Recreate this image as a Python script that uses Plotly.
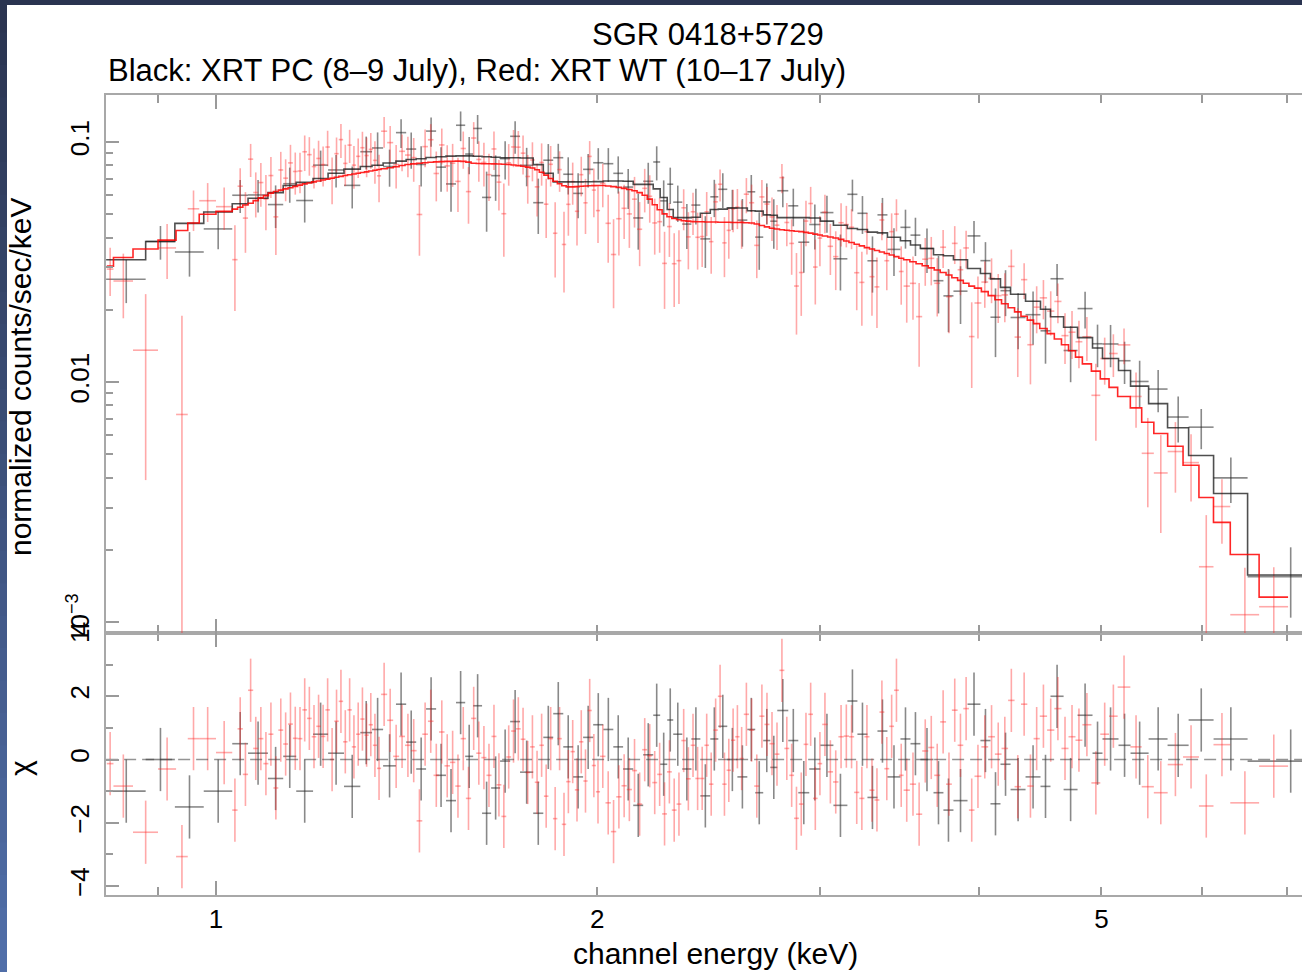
import math
import plotly.graph_objects as go

# ---------------- data ----------------
# Black: XRT PC (8-9 July) -- bin edges in keV
pc_edges = [0.819, 0.880, 0.928, 0.978, 1.030, 1.060, 1.099, 1.130, 1.157, 1.193,
            1.226, 1.262, 1.300, 1.328, 1.355, 1.387, 1.413, 1.439, 1.465, 1.492,
            1.519, 1.547, 1.573, 1.596, 1.622, 1.649, 1.676, 1.707, 1.738, 1.780,
            1.813, 1.846, 1.880, 1.914, 1.949, 1.985, 2.022, 2.059, 2.096, 2.135,
            2.174, 2.214, 2.242, 2.271, 2.296, 2.334, 2.373, 2.412, 2.456, 2.492,
            2.533, 2.580, 2.627, 2.665, 2.704, 2.739, 2.774, 2.830, 2.882, 2.940,
            3.000, 3.072, 3.151, 3.209, 3.268, 3.328, 3.389, 3.470, 3.534, 3.598,
            3.685, 3.752, 3.821, 3.920, 4.013, 4.087, 4.162, 4.239, 4.356, 4.476,
            4.558, 4.668, 4.788, 4.920, 5.010, 5.158, 5.272, 5.448, 5.639, 5.859,
            6.131, 6.522, 7.585]
# model (normalized counts/sec/keV) per bin
pc_model = [0.0323, 0.0385, 0.0458, 0.0511, 0.0553, 0.0583, 0.0615, 0.0659, 0.0679, 0.0705,
            0.0741, 0.0771, 0.0790, 0.0800, 0.0818, 0.0832, 0.0846, 0.0852, 0.0862, 0.0868,
            0.0873, 0.0875, 0.0875, 0.0872, 0.0868, 0.0864, 0.0860, 0.0860, 0.0858, 0.0805,
            0.0741, 0.0682, 0.0682, 0.0682, 0.0683, 0.0684, 0.0688, 0.0688, 0.0686, 0.0666,
            0.0666, 0.0638, 0.0587, 0.0523, 0.0484, 0.0484, 0.0486, 0.0505, 0.0523, 0.0525,
            0.0531, 0.0531, 0.0517, 0.0515, 0.0497, 0.0495, 0.0484, 0.0484, 0.0484, 0.0482,
            0.0468, 0.0450, 0.0436, 0.0432, 0.0421, 0.0418, 0.0401, 0.0388, 0.0372, 0.0360,
            0.0339, 0.0336, 0.0323, 0.0297, 0.0283, 0.0269, 0.0248, 0.0232, 0.0217, 0.0201,
            0.0187, 0.0169, 0.0153, 0.01385, 0.01253, 0.01116, 0.00961, 0.00813, 0.00645, 0.00494,
            0.00343, 0.00157]
# fractional 1-sigma errors per bin
pc_relerr = [0.17, 0.16, 0.16, 0.15, 0.17, 0.16, 0.18, 0.17, 0.16, 0.17,
             0.16, 0.17, 0.18, 0.19, 0.17, 0.18, 0.19, 0.18, 0.18, 0.19,
             0.18, 0.19, 0.18, 0.18, 0.19, 0.18, 0.18, 0.19, 0.17, 0.18,
             0.19, 0.18, 0.19, 0.19, 0.18, 0.18, 0.19, 0.19, 0.18, 0.19,
             0.20, 0.21, 0.21, 0.22, 0.20, 0.20, 0.19, 0.19, 0.20, 0.20,
             0.19, 0.20, 0.21, 0.21, 0.22, 0.22, 0.19, 0.20, 0.20, 0.20,
             0.19, 0.19, 0.21, 0.21, 0.20, 0.21, 0.20, 0.21, 0.20, 0.21,
             0.21, 0.20, 0.20, 0.21, 0.22, 0.22, 0.21, 0.21, 0.22, 0.22,
             0.22, 0.21, 0.23, 0.21, 0.23, 0.22, 0.23, 0.23, 0.24, 0.25,
             0.25, 0.32]
# residuals (chi) per bin
pc_chi = [-1.0, 0.0, -1.5, -1.0, 0.5, 0.2, -0.6, 0.1, -1.0, 0.8,
          0.2, -0.85, 0.85, 0.95, -0.2, 1.75, 0.55, -0.3, 1.6, -0.5,
          -1.3, 1.8, 0.1, 1.7, -1.7, -0.9, -0.05, 1.2, -0.4, -1.7,
          0.7, 1.45, 0.4, -0.55, 0.7, 1.1, 0.95, 0.4, -0.3, -1.45,
          0.15, 1.4, -0.15, 1.25, 0.8, -0.3, 0.65, -1.15, 0.65, 1.05,
          0.0, -0.55, 0.95, -1.05, 0.6, -0.25, 1.55, 0.6, -1.05, -0.3,
          0.45, -1.45, 1.85, 0.8, -1.2, 0.9, -0.55, 0.65, 0.5, 0.0,
          -1.05, -1.6, -1.3, 1.75, 0.6, -1.4, -0.15, -0.95, -0.55, -0.85,
          2.0, -0.95, 1.4, 0.2, 0.65, 0.45, 0.2, 0.65, 0.45, 1.25,
          0.65, -0.05]

# Red: XRT WT (10-17 July)
wt_edges = [0.82, 0.83, 0.86, 0.90, 0.93, 0.95, 0.97, 1.00, 1.03,
            1.04, 1.05, 1.06, 1.07, 1.08, 1.09, 1.10, 1.11, 1.12, 1.13,
            1.14, 1.15, 1.16, 1.17, 1.18, 1.19, 1.20, 1.21, 1.22, 1.23,
            1.24, 1.25, 1.26, 1.27, 1.28, 1.29, 1.30, 1.31, 1.32, 1.33,
            1.34, 1.35,
            1.365, 1.38, 1.395, 1.41, 1.425, 1.44, 1.455, 1.47, 1.485, 1.50,
            1.515, 1.53, 1.545, 1.56, 1.575, 1.59, 1.605, 1.62, 1.635, 1.65,
            1.665, 1.68, 1.695, 1.71, 1.725, 1.74, 1.755, 1.77, 1.785, 1.80,
            1.815, 1.83, 1.845, 1.86, 1.875, 1.89, 1.905, 1.92, 1.935, 1.95,
            1.965, 1.98, 1.995, 2.01,
            2.03, 2.05, 2.07, 2.09, 2.11, 2.13, 2.15, 2.17, 2.19, 2.21,
            2.23, 2.25, 2.27, 2.29, 2.31, 2.33, 2.35, 2.37, 2.39, 2.41,
            2.43, 2.45, 2.47, 2.49, 2.51, 2.53, 2.55, 2.57, 2.59, 2.61,
            2.635, 2.66, 2.685, 2.71, 2.735, 2.76, 2.785, 2.81, 2.835, 2.86,
            2.885, 2.91, 2.935, 2.96, 2.985, 3.01,
            3.04, 3.07, 3.10, 3.13, 3.16, 3.19, 3.22, 3.25, 3.28, 3.31,
            3.34, 3.37, 3.40, 3.43, 3.46, 3.49,
            3.53, 3.57, 3.61, 3.65, 3.69, 3.73, 3.77, 3.81, 3.85, 3.89, 3.93, 3.97,
            4.02, 4.07, 4.12, 4.17, 4.22, 4.27, 4.32, 4.37, 4.42, 4.47,
            4.53, 4.59, 4.65, 4.71, 4.77, 4.83,
            4.91, 4.99, 5.07, 5.15,
            5.27, 5.38, 5.50, 5.64, 5.80, 5.97, 6.13, 6.32, 6.66, 7.02]
wt_model = [0.0304, 0.0330, 0.0358, 0.0390, 0.0428, 0.0460, 0.0500, 0.0514,
            0.0525, 0.0535, 0.0546, 0.0556, 0.0570, 0.0585, 0.0598, 0.0612, 0.0622, 0.0630,
            0.0638, 0.0645, 0.0653, 0.0661, 0.0669, 0.0675, 0.0682, 0.0688, 0.0694, 0.0700,
            0.0706, 0.0713, 0.0719, 0.0725, 0.0730, 0.0736, 0.0741, 0.0746, 0.0751, 0.0757,
            0.0763, 0.0768,
            0.0774, 0.0781, 0.0789, 0.0798, 0.0806, 0.0811, 0.0815, 0.0819, 0.0823, 0.0826,
            0.0828, 0.0830, 0.0831, 0.0832, 0.0830, 0.0824, 0.0816, 0.0813, 0.0812, 0.0812,
            0.0811, 0.0810, 0.0808, 0.0806, 0.0802, 0.0797, 0.0792, 0.0786, 0.0779, 0.0766,
            0.0748, 0.0728, 0.0705, 0.0686, 0.0670, 0.0657, 0.0650, 0.0650, 0.0652, 0.0654,
            0.0656, 0.0657, 0.0658, 0.0659,
            0.0659, 0.0656, 0.0652, 0.0647, 0.0641, 0.0634, 0.0626, 0.0615, 0.0600, 0.0578,
            0.0548, 0.0522, 0.0502, 0.0488, 0.0480, 0.0474, 0.0470, 0.0468, 0.0466, 0.0465,
            0.0465, 0.0464, 0.0464, 0.0464, 0.0463, 0.0463, 0.0463, 0.0462, 0.0462, 0.0462,
            0.0461, 0.0460, 0.0455, 0.0449, 0.0443, 0.0437, 0.0434, 0.0431, 0.0429, 0.0427,
            0.0425, 0.0423, 0.0420, 0.0417, 0.0413, 0.0410,
            0.0406, 0.0402, 0.0398, 0.0393, 0.0387, 0.0381, 0.0375, 0.0369, 0.0363, 0.0358,
            0.0353, 0.0348, 0.0343, 0.0338, 0.0333, 0.0328,
            0.0323, 0.0317, 0.0311, 0.0305, 0.0299, 0.0293, 0.0286, 0.0279, 0.0272, 0.0265,
            0.0258, 0.0251,
            0.0246, 0.0238, 0.0229, 0.0220, 0.0212, 0.0204, 0.0196, 0.0188, 0.0181, 0.0175,
            0.0167, 0.0159, 0.0151, 0.0143, 0.0135, 0.0127,
            0.0119, 0.0111, 0.0103, 0.0095,
            0.0087, 0.0078, 0.0068, 0.0061, 0.0054, 0.0045, 0.0033, 0.0026, 0.00191, 0.00127]
wt_relerr = [0.22, 0.24, 0.27, 0.24, 0.27, 0.22, 0.21, 0.21,
             0.24, 0.23, 0.25, 0.24, 0.23, 0.24, 0.25, 0.23, 0.24, 0.23, 0.22, 0.24,
             0.23, 0.22, 0.23, 0.24, 0.22, 0.23, 0.22, 0.23, 0.22, 0.21, 0.23, 0.22,
             0.21, 0.22, 0.22, 0.21, 0.22, 0.21, 0.22, 0.21,
             0.21, 0.22, 0.21, 0.20, 0.21, 0.22, 0.20, 0.21, 0.20, 0.21, 0.20, 0.21,
             0.20, 0.21, 0.20, 0.20, 0.21, 0.20, 0.21, 0.20, 0.21, 0.20, 0.21, 0.20,
             0.21, 0.20, 0.21, 0.21, 0.20, 0.21, 0.22, 0.21, 0.22, 0.21, 0.22, 0.21,
             0.22, 0.21, 0.22, 0.21, 0.22, 0.21, 0.22, 0.21,
             0.21, 0.22, 0.21, 0.22, 0.21, 0.22, 0.22, 0.21, 0.22, 0.23, 0.22, 0.23,
             0.22, 0.23, 0.22, 0.23, 0.22, 0.23, 0.22, 0.23, 0.22, 0.23, 0.22, 0.23,
             0.22, 0.23, 0.22, 0.23, 0.22, 0.23,
             0.22, 0.23, 0.22, 0.23, 0.22, 0.23, 0.22, 0.23, 0.22, 0.23, 0.22, 0.23,
             0.24, 0.23, 0.22, 0.23, 0.23, 0.22, 0.23, 0.24, 0.23, 0.22, 0.23, 0.24,
             0.23, 0.24, 0.23, 0.24, 0.23, 0.24, 0.23, 0.24,
             0.23, 0.24, 0.23, 0.24, 0.25, 0.24, 0.23, 0.24, 0.25, 0.24, 0.25, 0.24,
             0.25, 0.24, 0.25, 0.24, 0.25, 0.26, 0.25, 0.24, 0.25, 0.26,
             0.25, 0.26, 0.27, 0.26, 0.27, 0.26, 0.27, 0.28, 0.27, 0.28,
             0.28, 0.29, 0.30, 0.30, 0.31, 0.32, 0.33, 0.35, 0.32, 0.42]
wt_chi = [-0.13, -0.84, -2.3, -0.3, -3.07, 0.66, 0.66, 0.22, -1.6, 0.97,
          -0.47, 2.19, 0.35, 0.66, -0.13, 0.8, -0.9, 0.93, 0.49, 1.12,
          0.67, 0.66, 1.57, 1.3, 0.72, 1.05, 0.73, 1.57, 0.0, 1.21,
          1.84, 0.56, 1.57, 0.4, 0.8, 1.28, 0.77, 1.1, 0.45, -0.28,
          2.06, 1.24, 0.1, 0.73, 0.45, 0.28, -1.94, 0.8, 1.21, -0.5,
          0.87, -0.2, -0.09, -0.84, 0.66, -1.23, 1.3, 0.2, 0.06, -0.5,
          0.73, -0.8, -1.8, 0.08, 0.9, 0.97, 0.64, -0.41, 0.4, -0.72,
          0.45, -1.16, 0.66, -1.87, 0.66, -2.05, -0.7, 0.25, -0.96, 0.56,
          -0.68, 1.55, -0.19, -1.02, 0.1, -1.37, -2.28, -1.18, -0.83, -0.95,
          -0.35, -1.41, 0.31, 0.12, -0.73, -0.47, -1.72, -0.39, -1.6, -1.41,
          0.6, -0.61, 0.45, -0.6,
          -0.6, 0.45, -0.78, 0.93, 2.0, -0.78, -0.34, 0.61, 0.72, 0.03,
          1.43, 0.93, -0.84, 1.37, 1.11, 0.5, 0.17, 2.82, 0.35, -0.5,
          -1.86, -1.41, 0.48, 1.43, -1.23, -0.13, 1.11, -0.39, -0.71, 0.72,
          0.74, 0.72, -1.04, -1.23, 0.72, -0.97, -1.28, 1.5, -0.29, 1.05,
          2.19, -0.5, -0.97, -0.78, -1.73, 0.27, 0.38, -0.5, 1.19, -0.78,
          1.56, 0.45, 1.61, -1.6, -0.53, 0.4, 0.72, 0.17, 0.35, 1.87,
          -0.86, 1.75, -0.84, 0.66, 1.37, 0.93, 1.61, 0.35, 0.72, 0.61,
          1.1, -0.74, 0.8, 1.37, 2.29, 0.4, -0.86, -1.05, -0.16, 0.08,
          -1.47, 0.47, -1.37, -0.21]

title_text = "SGR 0418+5729"
subtitle_text = "Black: XRT PC (8–9 July), Red: XRT WT (10–17 July)"
x_tick_vals = [1, 2, 5]
x_tick_text = ["1", "2", "5"]
y_tick_vals = [0.001, 0.01, 0.1]
y_tick_text = ["10<sup>−3</sup>", "0.01", "0.1"]
r_tick_vals = [-4, -2, 0, 2, 4]
r_tick_text = ["−4", "−2", "0", "2", "4"]


# ---------------- derived quantities ----------------
def prepare(edges, model, relerr, chi):
    n = min(len(edges) - 1, len(model), len(relerr), len(chi))
    xc, xw, yd, ye, ch = [], [], [], [], []
    for i in range(n):
        lo, hi = edges[i], edges[i + 1]
        xc.append(0.5 * (lo + hi))
        xw.append(0.5 * (hi - lo))
        err = model[i] * relerr[i]
        yd.append(model[i] + chi[i] * err)
        ye.append(err)
        ch.append(chi[i])
    step_x = list(edges[:n + 1])
    step_y = list(model[:n]) + [model[n - 1]]
    return xc, xw, yd, ye, ch, step_x, step_y


pc = prepare(pc_edges, pc_model, pc_relerr, pc_chi)
wt = prepare(wt_edges, wt_model, wt_relerr, wt_chi)

BLK = "rgba(40,40,40,0.55)"
RED = "rgba(255,40,40,0.40)"
BLK_LINE = "rgba(20,20,20,0.75)"
RED_LINE = "rgba(255,0,0,0.85)"
FONT = "Liberation Sans, Arial, Helvetica, sans-serif"

fig = go.Figure()


def add_data(d, color, top=True):
    xc, xw, yd, ye, ch, _, _ = d
    fig.add_trace(go.Scatter(
        x=xc, y=yd if top else ch, mode="markers",
        marker=dict(size=1, color=color, opacity=0),
        error_x=dict(type="data", array=xw, visible=True, color=color, thickness=1.6, width=0),
        error_y=dict(type="data", array=ye if top else [1.0] * len(ch), visible=True,
                     color=color, thickness=1.6, width=0),
        xaxis="x2" if top else "x", yaxis="y" if top else "y2",
        showlegend=False, hoverinfo="skip"))


add_data(pc, BLK, True)
add_data(wt, RED, True)
fig.add_trace(go.Scatter(x=pc[5], y=pc[6], mode="lines", line=dict(shape="hv", color=BLK_LINE, width=1.6),
                         xaxis="x2", yaxis="y", showlegend=False, hoverinfo="skip"))
fig.add_trace(go.Scatter(x=wt[5], y=wt[6], mode="lines", line=dict(shape="hv", color=RED_LINE, width=1.6),
                         xaxis="x2", yaxis="y", showlegend=False, hoverinfo="skip"))

add_data(pc, BLK, False)
add_data(wt, RED, False)
fig.add_trace(go.Scatter(x=[pc_edges[0], pc_edges[-1]], y=[0, 0], mode="lines",
                         line=dict(color="rgba(60,60,60,0.55)", width=1.5, dash="12px,6px"),
                         xaxis="x", yaxis="y2", showlegend=False, hoverinfo="skip"))

# ---------------- layout ----------------
W, H = 1302, 972
ML, MR, MT, MB = 106, 0, 95, 77
PW, PH = W - ML - MR, H - MT - MB
split = (895 - 633) / PH


def px(xp):
    return (xp - ML) / PW


def py(yp):
    return (H - MB - yp) / PH


axis_col = "#a8a8a8"
tick_col = "#9a9a9a"
xr = [math.log10(0.8188), math.log10(7.2)]
common_x = dict(type="log", range=xr, tickvals=x_tick_vals, ticktext=x_tick_text,
                ticks="inside", ticklen=8, tickwidth=2, tickcolor=tick_col,
                showline=True, linecolor=axis_col, linewidth=2, mirror="ticks",
                showgrid=False, zeroline=False,
                minor=dict(tickvals=[0.9, 3, 4, 6, 7], ticks="inside", ticklen=8,
                           tickwidth=2, tickcolor=tick_col, showgrid=False),
                tickfont=dict(family=FONT, size=26, color="black"))

fig.update_layout(
    width=W, height=H, margin=dict(l=ML, r=MR, t=MT, b=MB),
    paper_bgcolor="white", plot_bgcolor="white",
    font=dict(family=FONT, color="black"),
    xaxis=dict(domain=[0, 1], anchor="y2", ticklabelstandoff=0, **common_x),
    xaxis2=dict(domain=[0, 1], anchor="y", matches="x", showticklabels=False, **common_x),
    yaxis=dict(domain=[split, 1], anchor="x2", type="log", range=[-3.0458, -0.8042],
               tickvals=y_tick_vals, ticktext=y_tick_text, tickangle=-90,
               ticks="inside", ticklen=13, tickwidth=2, tickcolor=tick_col,
               showline=True, linecolor=axis_col, linewidth=2, mirror=False,
               showgrid=False, zeroline=False, ticklabelstandoff=5,
               minor=dict(tickvals=[k * 10 ** p for p in (-3, -2, -1) for k in range(2, 10)],
                          ticks="inside", ticklen=7, tickwidth=2, tickcolor=tick_col, showgrid=False),
               tickfont=dict(family=FONT, size=26, color="black")),
    yaxis2=dict(domain=[0, split], anchor="x", range=[-4.285, 4.001],
                tickvals=r_tick_vals, ticktext=r_tick_text, tickangle=-90,
                ticks="inside", ticklen=13, tickwidth=2, tickcolor=tick_col,
                showline=True, linecolor=axis_col, linewidth=2, mirror=False,
                showgrid=False, zeroline=False, ticklabelstandoff=5,
                minor=dict(tickvals=[-3, -1, 1, 3], ticks="inside", ticklen=7,
                           tickwidth=2, tickcolor=tick_col, showgrid=False),
                tickfont=dict(family=FONT, size=26, color="black")),
)

ann = [
    dict(text=title_text, x=px(708), y=py(34), xanchor="center", yanchor="middle", font=dict(size=31)),
    dict(text=subtitle_text, x=px(106), y=py(71), xanchor="left", yanchor="middle", font=dict(size=31)),
    dict(text="normalized counts/sec/keV", x=px(20), y=py(377), textangle=-90,
         xanchor="center", yanchor="middle", font=dict(size=30)),
    dict(text="χ", x=px(20), y=py(768), textangle=-90, xanchor="center", yanchor="middle", font=dict(size=30)),
    dict(text="channel energy (keV)", x=px(715), y=py(953), xanchor="center", yanchor="middle", font=dict(size=30)),
]
for a in ann:
    a.update(xref="paper", yref="paper", showarrow=False)
fig.update_layout(annotations=ann)

# long major tick at 1 keV (both panels, both sides)
shapes = []
ltop = 14 / (633 - 95)
lres = 14 / (895 - 633)
for xa, ya, l in (("x2", "y domain", ltop), ("x", "y2 domain", lres)):
    shapes.append(dict(type="line", xref=xa, yref=ya, x0=1, x1=1, y0=0, y1=l,
                       line=dict(color=tick_col, width=2)))
    shapes.append(dict(type="line", xref=xa, yref=ya, x0=1, x1=1, y0=1 - l, y1=1,
                       line=dict(color=tick_col, width=2)))

# dark frame of the screenshot: top band and left gradient band
shapes.append(dict(type="rect", xref="paper", yref="paper", x0=px(0), x1=px(W), y0=py(5), y1=py(0),
                   line=dict(width=0), fillcolor="rgb(42,52,80)", layer="above"))
nseg = 30
c0, c1 = (42, 52, 80), (80, 110, 168)
for i in range(nseg):
    t = i / (nseg - 1)
    col = "rgb(%d,%d,%d)" % tuple(round(c0[k] + (c1[k] - c0[k]) * t) for k in range(3))
    y0p, y1p = H * i / nseg, H * (i + 1) / nseg + 1
    shapes.append(dict(type="rect", xref="paper", yref="paper", x0=px(0), x1=px(7),
                       y0=py(y1p), y1=py(y0p), line=dict(width=0), fillcolor=col, layer="above"))
fig.update_layout(shapes=shapes)

fig.write_html("out.html")
